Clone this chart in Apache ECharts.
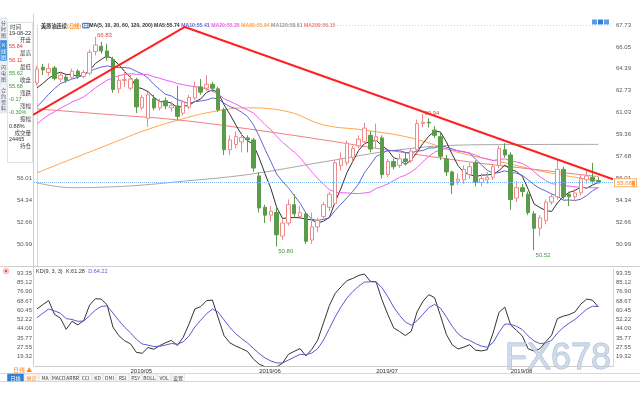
<!DOCTYPE html>
<html><head><meta charset="utf-8">
<script src="https://cdn.jsdelivr.net/npm/echarts@6/dist/echarts.min.js"></script>
<style>html,body{margin:0;padding:0;background:#fff}#c{width:640px;height:400px}</style>
</head><body><div id="c"></div>
<script>
// ---------------- DATA ----------------
const dates = [
'2019/04/08','2019/04/09','2019/04/10','2019/04/11','2019/04/12','2019/04/15','2019/04/16','2019/04/17','2019/04/18','2019/04/22','2019/04/23','2019/04/24','2019/04/25','2019/04/26','2019/04/29','2019/04/30',
'2019/05/01','2019/05/02','2019/05/03','2019/05/06','2019/05/07','2019/05/08','2019/05/09','2019/05/10','2019/05/13','2019/05/14','2019/05/15','2019/05/16','2019/05/17','2019/05/20','2019/05/21','2019/05/22','2019/05/23','2019/05/24','2019/05/28','2019/05/29','2019/05/30','2019/05/31',
'2019/06/03','2019/06/04','2019/06/05','2019/06/06','2019/06/07','2019/06/10','2019/06/11','2019/06/12','2019/06/13','2019/06/14','2019/06/17','2019/06/18','2019/06/19','2019/06/20','2019/06/21','2019/06/24','2019/06/25','2019/06/26','2019/06/27','2019/06/28',
'2019/07/01','2019/07/02','2019/07/03','2019/07/04','2019/07/05','2019/07/08','2019/07/09','2019/07/10','2019/07/11','2019/07/12','2019/07/15','2019/07/16','2019/07/17','2019/07/18','2019/07/19','2019/07/22','2019/07/23','2019/07/24','2019/07/25','2019/07/26','2019/07/29','2019/07/30','2019/07/31',
'2019/08/01','2019/08/02','2019/08/05','2019/08/06','2019/08/07','2019/08/08','2019/08/09','2019/08/12','2019/08/13','2019/08/14','2019/08/15','2019/08/16','2019/08/19','2019/08/20','2019/08/21','2019/08/22'];
const emptySlots = [' ', '  '];

const openP = [63.30,64.50,64.10,64.45,63.60,63.75,63.70,64.20,63.80,64.05,65.70,66.10,65.75,65.10,62.85,63.50,
62.90,63.55,61.40,60.60,62.10,61.40,61.95,61.40,61.55,61.00,61.45,62.15,63.00,62.90,63.20,62.85,61.25,58.20,58.60,58.80,59.10,58.95,
56.20,53.80,53.20,53.40,51.60,52.60,54.00,53.10,53.30,51.30,52.30,53.10,53.80,54.10,57.00,57.20,57.60,58.50,58.80,59.30,
58.90,59.10,56.30,57.30,57.00,57.50,57.35,58.20,60.20,60.30,59.70,59.20,57.50,56.50,55.80,55.90,56.30,57.20,55.70,55.90,56.10,57.00,58.20,
57.80,54.50,55.30,54.80,53.30,52.20,52.80,54.20,54.60,56.70,54.80,54.60,54.90,55.90,56.10,55.84];
const closeP = [64.37,64.30,64.40,63.65,63.90,63.50,64.20,63.80,64.10,65.65,66.20,65.75,65.25,62.80,63.50,63.55,
63.60,61.47,62.20,62.40,61.40,61.85,61.55,61.60,60.75,61.85,62.20,63.00,62.60,63.20,62.90,61.25,58.20,58.95,59.20,59.15,58.95,56.80,
53.75,53.20,53.50,51.70,52.60,54.00,53.30,53.40,51.20,52.30,52.80,54.00,54.80,57.20,57.50,58.70,58.30,59.00,59.85,58.25,
59.20,56.30,57.30,56.90,57.50,57.30,58.10,60.20,60.30,60.25,59.30,57.70,56.50,55.50,55.95,56.70,56.90,55.70,56.00,56.10,56.90,58.30,57.80,
54.40,55.30,55.00,53.40,52.20,53.00,54.20,54.60,56.70,54.60,54.60,54.90,56.00,56.20,55.80,55.68];
const lowP = [63.10,63.90,63.85,63.50,63.40,63.30,63.55,63.60,63.65,63.90,65.40,65.55,65.00,62.55,62.50,63.00,
62.75,61.00,61.20,59.95,61.20,61.20,61.30,61.10,60.50,60.80,61.30,62.00,62.40,62.70,62.60,61.10,57.80,57.80,58.30,58.00,58.00,56.50,
53.40,52.60,52.70,50.80,51.30,52.40,53.00,52.90,51.00,51.00,51.90,52.80,53.50,53.90,56.60,57.00,57.30,58.30,58.60,58.00,
58.30,56.00,56.10,56.70,56.80,57.00,57.20,58.00,59.90,59.90,59.10,57.40,56.20,54.80,55.50,55.60,56.00,55.40,55.40,55.60,55.90,56.80,57.60,
53.60,54.20,54.60,53.20,50.52,51.60,52.50,54.00,54.40,54.40,53.90,54.30,54.70,55.60,55.60,55.62];
const highP = [64.60,64.75,64.80,64.60,64.10,63.95,64.40,64.35,64.30,65.85,66.83,66.45,66.30,65.30,63.85,64.30,
63.90,63.70,62.40,62.60,62.40,62.10,62.20,61.90,63.10,62.00,62.40,63.40,63.60,63.90,63.40,63.00,61.40,59.30,59.60,59.50,59.30,59.10,
56.50,54.00,53.90,53.80,52.90,54.40,54.80,53.90,53.40,53.40,53.00,54.20,55.00,57.40,58.00,58.90,58.50,59.30,60.25,59.60,
60.20,59.30,57.50,57.50,57.90,58.00,58.30,60.50,60.94,60.60,60.00,59.50,57.80,56.60,56.40,57.00,57.20,57.40,56.40,56.50,57.10,58.50,58.70,
58.00,55.80,55.60,55.00,53.50,53.20,54.40,54.90,57.40,56.90,55.00,55.20,56.30,56.60,57.20,56.11];
// closes before the visible window, feeding the MA5/10/20 lines at the left edge
const closesBeforeView = [56.87,58.26,58.61,58.52,59.09,59.03,60.23,59.98,59.04,58.82,59.94,59.41,59.30,60.14,61.59,62.58,62.46,62.10,63.08];

// long moving averages (bar index, value)
const ma60Idx = [0,6,12,18,24,30,36,43,49,56,64,72,80,88,96];
const ma60Val = [56.43,57.50,58.55,59.60,60.45,61.10,61.40,61.10,60.10,59.70,59.10,58.00,57.20,56.40,55.84];
const ma120Idx = [0,6,12,18,24,36,49,62,74,85,96];
const ma120Val = [55.67,55.30,55.35,55.50,55.75,56.30,57.27,58.20,58.57,58.60,58.61];
const ma200Idx = [0,12,24,36,49,61,74,85,96];
const ma200Val = [61.32,60.90,60.48,59.80,58.95,58.10,57.27,56.70,56.15];

// drawn trend line (bar index, price)
const trendIdx = [-0.67, 25.3, 98.5];
const trendVal = [60.86, 67.58, 55.94];

// marked extremes (bar index, price, kind)
const extremeIdx = [10, 66, 41, 85];
const extremeVal = [66.83, 60.94, 50.80, 50.52];
const extremeKind = ['high','high','low','low'];

const priceTickLabels = ['50.99','52.66','54.34','56.01','57.68','59.36','61.03','62.73','64.39','66.05','67.73'];
const kdTickLabels = ['19.32','27.55','35.77','44.00','52.22','60.45','68.67','76.90','85.12','93.35'];

const maNames = ['MA5','MA10','MA20','MA60','MA120','MA200'];
const maLegendVals = ['55.74','55.41','55.35','55.84','58.61','56.15'];
const kdLegendVals = ['61.28','64.22'];

const infoNames = ['时间','开盘','最高','最低','收盘','涨跌','涨幅','振幅','成交量','持仓'];
const infoValues = ['19-08-22','55.84','56.11','55.62','55.68','-0.17','-0.30%','0.88%','24465',''];
const infoTone = ['n','up','up','dn','dn','dn','dn','n','n','n'];
const tabNames = ['分时图','K线图','闪电图','合约资料'];
const toolbarItems = ['日线','缠论','MA','MACD','ARBR','CCI','KD','DMI','RSI','PSY','BOLL','VOL','设置'];

// ---------------- STYLE / LAYOUT ----------------
const FONT = 'Liberation Sans, Noto Sans CJK SC, sans-serif';
const CJK = 'Noto Sans CJK SC, sans-serif';
const UP = '#ee8a8a', DOWN = '#5a9c4a';
const maColors = ['#333333','#6464d2','#f060f0','#ffa54d','#a8a8a8','#ee8080'];
const priceMin = 49.316, priceMax = 67.73, priceStep = 1.674;
const kdMin = 11.095, kdMax = 97.77, kdStep = 8.225;

const cats = dates.concat(emptySlots);
const N = dates.length;

function tickLabel(list, min, step){
  return function(v){
    const k = Math.round((v - min) / step) - 1;
    if (k >= 0 && k < list.length && Math.abs(v - (min + (k + 1) * step)) < 0.01) return list[k];
    return '';
  };
}
const allCloses = closesBeforeView.concat(closeP);
const off = closesBeforeView.length;
function ma(n){
  return closeP.map((_, i) => {
    const e = off + i, s = Math.max(0, e - n + 1);
    let sum = 0; for (let j = s; j <= e; j++) sum += allCloses[j];
    return +(sum / (e - s + 1)).toFixed(3);
  });
}
function kd(n){
  let K = 50, D = 50; const ks = [], ds = [];
  for (let i = 0; i < N; i++){
    let lo = Infinity, hi = -Infinity;
    for (let j = Math.max(0, i - n + 1); j <= i; j++){ lo = Math.min(lo, lowP[j]); hi = Math.max(hi, highP[j]); }
    const rsv = hi === lo ? 50 : (closeP[i] - lo) / (hi - lo) * 100;
    K = (2 * K + rsv) / 3; D = (2 * D + K) / 3;
    ks.push(+K.toFixed(2)); ds.push(+D.toFixed(2));
  }
  return [ks, ds];
}
const [kLine, dLine] = kd(9);
const pairs = (ix, vs) => ix.map((x, i) => [x, vs[i]]);
const lastClose = closeP[N - 1];

function isMonthStart(i){
  if (i >= N || i === 0) return false;
  return dates[i].slice(0, 7) !== dates[i - 1].slice(0, 7);
}

const chart = echarts.init(document.getElementById('c'), null, {renderer: 'canvas'});

const candleMarks = extremeIdx.map((ix, i) => {
  const hi = extremeKind[i] === 'high';
  return {
    coord: [dates[ix], extremeVal[i]], value: extremeVal[i].toFixed(2),
    label: {show: true, position: 'right', distance: 1, offset: hi ? [0, -1] : [0, 5],
            color: hi ? '#e04848' : '#3f9a3f', fontSize: 6, fontFamily: FONT, formatter: '{c}'}
  };
});

const maSeries = [5, 10, 20].map((n, k) => ({
  type: 'line', name: maNames[k], xAxisIndex: 0, yAxisIndex: 0, data: ma(n),
  symbol: 'none', smooth: false, lineStyle: {width: 1, color: maColors[k]}, z: 3, silent: true
}));
const longMa = [[ma60Idx, ma60Val], [ma120Idx, ma120Val], [ma200Idx, ma200Val]].map((p, k) => ({
  type: 'line', name: maNames[k + 3], xAxisIndex: 2, yAxisIndex: 0, data: pairs(p[0], p[1]),
  symbol: 'none', smooth: 0.4, lineStyle: {width: 1, color: maColors[k + 3]}, z: 2, silent: true
}));

// legend rich text
const LF = 5.2;
const rich = {
  t: {color: '#333', fontSize: LF, fontFamily: CJK},
  l: {color: '#333', fontSize: LF, fontFamily: FONT},
  o: {color: '#ff8a1e', fontSize: LF, fontFamily: CJK},
  b: {color: '#2a6fd0', fontSize: 4.5, fontFamily: CJK, borderColor: '#2a6fd0', borderWidth: 1, padding: [0, 1, 0, 1]}
};
let legendText = '{t|美原油连续}{o|(日线)} {b|日}{l|MA(5, 10, 20, 60, 120, 200)}';
maNames.forEach((n, k) => {
  rich['m' + k] = {color: maColors[k] === '#a8a8a8' ? '#999' : maColors[k], fontSize: LF, fontFamily: FONT};
  legendText += ' {m' + k + '|' + n + ':' + maLegendVals[k] + '}';
});

const graphics = [];
// left info panel cover
graphics.push({type: 'rect', shape: {x: 0, y: 14, width: 33, height: 152}, style: {fill: '#fff'}, z: 50});
graphics.push({type: 'rect', shape: {x: 7.5, y: 22.5, width: 25, height: 140}, style: {fill: '#fff', stroke: '#e2e2e2', lineWidth: 1}, z: 50});
// tabs
const tabY = [18, 40, 62, 84], tabH = [22, 22, 22, 30];
tabNames.forEach((t, i) => {
  const active = i === 1;
  graphics.push({type: 'rect', shape: {x: 0, y: tabY[i], width: 7, height: tabH[i] - 1},
    style: {fill: active ? '#3b8de0' : '#eef1f5', stroke: '#d5dbe3', lineWidth: 0.5}, z: 51});
  graphics.push({type: 'text', x: 3.5, y: tabY[i] + tabH[i] / 2, z: 52,
    style: {text: t.split('').join('\n'), fill: active ? '#fff' : '#556', fontSize: 5, lineHeight: 6,
            fontFamily: CJK, textAlign: 'center', textVerticalAlign: 'middle'}});
});
// info rows
const toneColor = {n: '#333', up: '#e03c3c', dn: '#2f9a2f'};
infoNames.forEach((nm, i) => {
  const y1 = 27 + i * 13.2, y2 = y1 + 6.6;
  graphics.push({type: 'text', x: i === 0 ? 10 : 31, y: y1, z: 52,
    style: {text: nm, fill: '#444', fontSize: 5.5, fontFamily: CJK, textAlign: i === 0 ? 'left' : 'right', textVerticalAlign: 'middle'}});
  if (infoValues[i]) graphics.push({type: 'text', x: 9, y: y2, z: 52,
    style: {text: infoValues[i], fill: toneColor[infoTone[i]], fontSize: 5.5, fontFamily: FONT, textAlign: 'left', textVerticalAlign: 'middle'}});
});
// frame lines
graphics.push({type: 'line', shape: {x1: 33.5, y1: 14, x2: 33.5, y2: 366}, style: {stroke: '#cfcfcf', lineWidth: 1}, z: 1});
graphics.push({type: 'line', shape: {x1: 34, y1: 25.5, x2: 613, y2: 25.5}, style: {stroke: '#d6d6d6', lineWidth: 1, lineDash: [1, 2]}, z: 1});
graphics.push({type: 'line', shape: {x1: 0, y1: 266.5, x2: 640, y2: 266.5}, style: {stroke: '#cfcfcf', lineWidth: 1}, z: 1});
graphics.push({type: 'line', shape: {x1: 0, y1: 373.5, x2: 640, y2: 373.5}, style: {stroke: '#d8d8d8', lineWidth: 1}, z: 1});
graphics.push({type: 'line', shape: {x1: 0, y1: 381.5, x2: 640, y2: 381.5}, style: {stroke: '#d8d8d8', lineWidth: 1}, z: 1});
// KD title + icon
graphics.push({type: 'circle', shape: {cx: 6, cy: 271, r: 3}, style: {fill: '#fbd3d3', stroke: '#f3a0a0', lineWidth: 0.5}, z: 5});
graphics.push({type: 'circle', shape: {cx: 6, cy: 271, r: 1.2}, style: {fill: '#e34b4b'}, z: 6});
graphics.push({type: 'text', x: 36, y: 271.5, z: 6, style: {
  text: '{a|KD(9, 3, 3)} {k|K:' + kdLegendVals[0] + '} {d|D:' + kdLegendVals[1] + '}',
  rich: {a: {fill: '#333', fontSize: 5.5, fontFamily: FONT}, k: {fill: '#333', fontSize: 5.5, fontFamily: FONT}, d: {fill: '#5a5ad0', fontSize: 5.5, fontFamily: FONT}},
  textVerticalAlign: 'middle'}});
// period tag at bottom left
graphics.push({type: 'text', x: 13, y: 369.5, z: 6, style: {text: '日线 ▲', fill: '#ff8a1e', fontSize: 6, fontFamily: CJK, textVerticalAlign: 'middle'}});
// toolbar
const tbX = [7, 24, 39, 51, 66, 79, 92, 103, 116, 129, 142, 157, 171, 185];
toolbarItems.forEach((t, i) => {
  const w = tbX[i + 1] - tbX[i] - 1;
  graphics.push({type: 'rect', shape: {x: tbX[i] + 0.5, y: 374, width: w, height: 7},
    style: {fill: i === 0 ? '#2f7fd6' : '#f7f7f7', stroke: i === 0 ? '#2f7fd6' : '#dcdcdc', lineWidth: 0.5}, z: 5});
  graphics.push({type: 'text', x: tbX[i] + 0.5 + w / 2, y: 377.6, z: 6,
    style: {text: t, fill: i === 0 ? '#fff' : (i === 1 ? '#ff8a1e' : '#444'), fontSize: 5, fontFamily: CJK,
            textAlign: 'center', textVerticalAlign: 'middle'}});
});
// top right icons
[592, 598, 604].forEach((x, i) => {
  graphics.push({type: 'rect', shape: {x: x, y: 19.5, width: 5, height: 5}, style: {fill: i === 1 ? '#2f7fd6' : '#5b9be0'}, z: 6});
});
// watermark
graphics.push({type: 'text', x: 505, y: 377, z: 40, style: {text: 'FX678', fill: 'rgba(200,214,232,0.85)',
  stroke: '#9fb5cf', lineWidth: 0.8, fontSize: 36, fontFamily: 'Liberation Sans, sans-serif', textVerticalAlign: 'bottom'}});

const yAxisBase = (grid, pos, min, max, step, labels) => ({
  type: 'value', gridIndex: grid, position: pos, min: min, max: max, interval: step, scale: true,
  axisLine: {show: pos === 'right', lineStyle: {color: '#cfcfcf', type: 'dotted'}},
  axisTick: {show: false}, splitLine: {show: false},
  axisLabel: {show: true, fontSize: 6, fontFamily: FONT, color: '#555', margin: pos === 'right' ? 3 : 2,
              showMinLabel: true, showMaxLabel: true, formatter: tickLabel(labels, min, step)}
});

const option = {
  animation: false,
  backgroundColor: '#fff',
  textStyle: {fontFamily: FONT},
  title: {text: legendText, left: 36, top: 18, textStyle: {rich: rich, fontSize: LF}},
  grid: [
    {left: 34, right: 27, top: 25, height: 241},
    {left: 34, right: 27, top: 268, height: 98}
  ],
  xAxis: [
    {type: 'category', gridIndex: 0, data: cats, boundaryGap: true, axisLine: {show: false}, axisTick: {show: false}, axisLabel: {show: false}, splitLine: {show: false}},
    {type: 'category', gridIndex: 1, data: cats, boundaryGap: true,
     axisLine: {show: true, lineStyle: {color: '#cfcfcf'}}, axisTick: {show: false}, splitLine: {show: false},
     axisLabel: {show: true, interval: (i) => isMonthStart(i), align: 'left', margin: 2, fontSize: 6, fontFamily: FONT, color: '#333',
                 formatter: (v) => v.trim() ? v.slice(0, 7) : ''}},
    {type: 'value', gridIndex: 0, min: -0.5, max: cats.length - 0.5, show: false}
  ],
  yAxis: [
    yAxisBase(0, 'right', priceMin, priceMax, priceStep, priceTickLabels),
    yAxisBase(0, 'left', priceMin, priceMax, priceStep, priceTickLabels),
    yAxisBase(1, 'right', kdMin, kdMax, kdStep, kdTickLabels),
    yAxisBase(1, 'left', kdMin, kdMax, kdStep, kdTickLabels)
  ],
  series: [
    {type: 'candlestick', xAxisIndex: 0, yAxisIndex: 0, barWidth: '68%', z: 4, silent: true,
     data: openP.map((o, i) => [o, closeP[i], lowP[i], highP[i]]),
     itemStyle: {color: '#ffffff', color0: DOWN, borderColor: UP, borderColor0: DOWN, borderWidth: 1},
     markPoint: {symbol: 'circle', symbolSize: 1, itemStyle: {color: 'rgba(0,0,0,0)'}, silent: true, data: candleMarks},
     markLine: {symbol: ['none', 'none'], silent: true, animation: false,
       lineStyle: {color: '#80b6ec', type: 'dotted', width: 1},
       label: {show: true, position: 'end', distance: 2, formatter: lastClose.toFixed(2) + '{sq|}',
               color: '#ff8a1e', fontSize: 6, fontFamily: FONT, backgroundColor: '#fff', borderColor: '#ffb066', borderWidth: 1, padding: [1, 1, 0, 2],
               rich: {sq: {backgroundColor: '#ff9a3a', width: 3, height: 5}}},
       data: [{yAxis: lastClose}]}
    },
    ...maSeries,
    ...longMa,
    {type: 'line', name: 'trend', xAxisIndex: 2, yAxisIndex: 0, data: pairs(trendIdx, trendVal), symbol: 'none',
     lineStyle: {width: 2, color: '#ff2020'}, z: 6, silent: true},
    {type: 'line', name: 'K', xAxisIndex: 1, yAxisIndex: 2, data: kLine, symbol: 'none', lineStyle: {width: 1, color: '#333'}, silent: true},
    {type: 'line', name: 'D', xAxisIndex: 1, yAxisIndex: 2, data: dLine, symbol: 'none', lineStyle: {width: 1, color: '#5a5ad0'}, silent: true}
  ],
  graphic: graphics
};
chart.setOption(option);
</script>
</body></html>
